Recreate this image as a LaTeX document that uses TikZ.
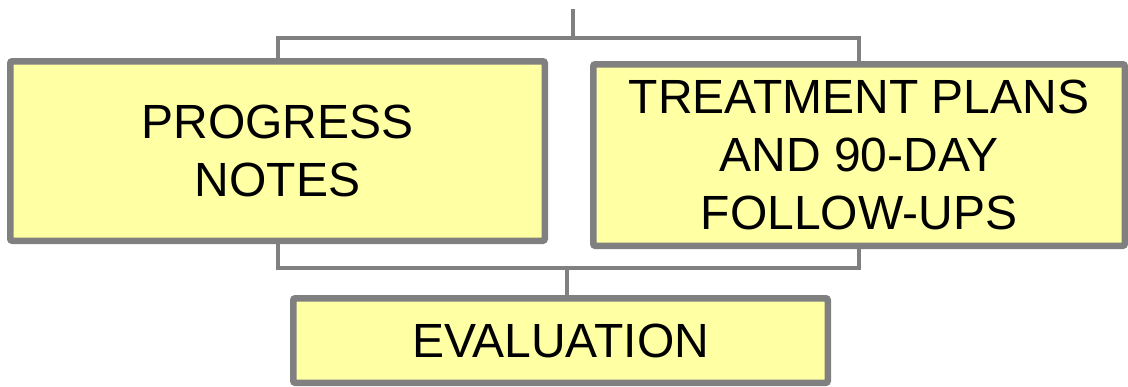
\documentclass[tikz,border=0pt]{standalone}
\usepackage{fontspec}
\setmainfont{Liberation Sans}
\definecolor{boxgray}{HTML}{808080}
\definecolor{boxfill}{HTML}{FFFFA3}
\begin{document}
\begin{tikzpicture}[x=1pt,y=-1pt,
  card/.style={draw=boxgray, fill=boxfill, line width=6.5pt, rounded corners=2pt,
    align=center, inner sep=0pt, font=\fontsize{48}{58}\selectfont},
  conn/.style={draw=boxgray, line width=4pt}]
  \useasboundingbox (0,0) rectangle (1128,386);

  % boxes
  \node[card, minimum width=534.5pt, minimum height=179.5pt] (pn) at (277.5,151) {PROGRESS\\NOTES};
  \node[card, minimum width=531.5pt, minimum height=181.5pt] (tp) at (859,155) {TREATMENT PLANS\\AND 90-DAY\\FOLLOW-UPS};
  \node[card, minimum width=534.5pt, minimum height=84.5pt] (ev) at (560.5,340.5) {EVALUATION};

  % bracket connectors
  \coordinate (top) at (573,9);
  \coordinate (topbar) at (573,37.5);
  \coordinate (botbar) at (566.5,268);
  \draw[conn] (top) -- (topbar);
  \draw[conn] (pn.north) |- (topbar) -| (tp.north);
  \draw[conn] (pn.south) |- (botbar) -| (tp.south);
  \draw[conn] (botbar) -- (botbar |- ev.north);
\end{tikzpicture}
\end{document}
